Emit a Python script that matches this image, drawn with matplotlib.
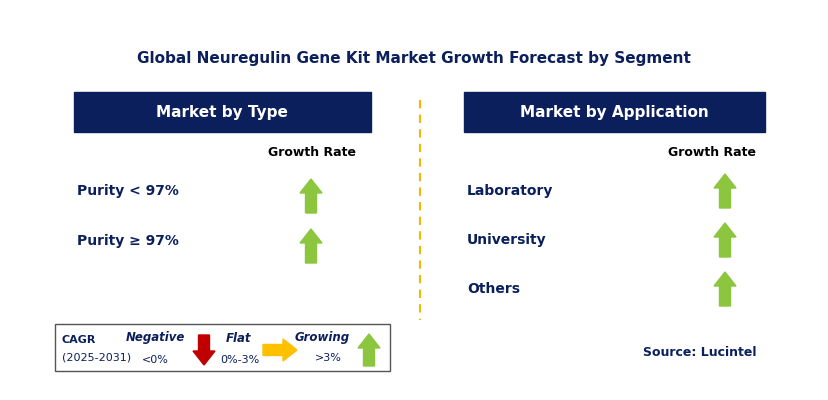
import matplotlib.pyplot as plt
from matplotlib.patches import Rectangle, Polygon

title = 'Global Neuregulin Gene Kit Market Growth Forecast by Segment'
type_segments = ['Purity < 97%', 'Purity ≥ 97%']
type_trend = ['up', 'up']
app_segments = ['Laboratory', 'University', 'Others']
app_trend = ['up', 'up', 'up']

navy = '#0b1f5c'
green = '#8cc63f'
fig = plt.figure(figsize=(8.29, 4.0), dpi=100)
ax = fig.add_axes([0, 0, 1, 1])
ax.set_xlim(0, 829)
ax.set_ylim(400, 0)
ax.axis('off')


def arrow(x, y, kind, w=22, h=34):
    # x,y is the centre of the arrow
    if kind == 'up':
        pts = [(x - w/2, y - h/2 + 14), (x, y - h/2), (x + w/2, y - h/2 + 14),
               (x + w/4, y - h/2 + 14), (x + w/4, y + h/2), (x - w/4, y + h/2),
               (x - w/4, y - h/2 + 14)]
        c = green
    elif kind == 'down':
        pts = [(x - w/2, y + h/2 - 14), (x, y + h/2), (x + w/2, y + h/2 - 14),
               (x + w/4, y + h/2 - 14), (x + w/4, y - h/2), (x - w/4, y - h/2),
               (x - w/4, y + h/2 - 14)]
        c = '#c00000'
    else:
        pts = [(x + h/2 - 14, y - w/2), (x + h/2, y), (x + h/2 - 14, y + w/2),
               (x + h/2 - 14, y + w/4), (x - h/2, y + w/4), (x - h/2, y - w/4),
               (x + h/2 - 14, y - w/4)]
        c = '#ffc000'
    ax.add_patch(Polygon(pts, closed=True, color=c))


ax.text(414, 58, title, ha='center', va='center', fontsize=11, fontweight='bold', color=navy)

# left panel
ax.add_patch(Rectangle((74, 92), 297, 40, color=navy))
ax.text(222, 112, 'Market by Type', ha='center', va='center', fontsize=11, fontweight='bold', color='white')
ax.text(312, 152, 'Growth Rate', ha='center', va='center', fontsize=9, fontweight='bold', color='black')
for i, (s, t) in enumerate(zip(type_segments, type_trend)):
    y = 191 + i * 50
    ax.text(77, y, s, ha='left', va='center', fontsize=10, fontweight='bold', color=navy)
    arrow(311, y + 5, t)

# right panel
ax.add_patch(Rectangle((464, 92), 301, 40, color=navy))
ax.text(614, 112, 'Market by Application', ha='center', va='center', fontsize=11, fontweight='bold', color='white')
ax.text(712, 152, 'Growth Rate', ha='center', va='center', fontsize=9, fontweight='bold', color='black')
for i, (s, t) in enumerate(zip(app_segments, app_trend)):
    y = 191 + i * 49
    ax.text(467, y, s, ha='left', va='center', fontsize=10, fontweight='bold', color=navy)
    arrow(725, y + 0, t)

ax.plot([420, 420], [100, 320], ls=(0, (4, 3)), color='#f5b800', lw=1.5)

# legend box
ax.add_patch(Rectangle((55, 324), 335, 47, fill=False, ec='#555555', lw=1))
ax.text(62, 340, 'CAGR', fontsize=8, fontweight='bold', color=navy, va='center')
ax.text(62, 358, '(2025-2031)', fontsize=8, color=navy, va='center')
ax.text(155, 338, 'Negative', fontsize=8.5, fontweight='bold', style='italic', color=navy, ha='center', va='center')
ax.text(155, 360, '<0%', fontsize=8, color=navy, ha='center', va='center')
arrow(204, 350, 'down', w=22, h=30)
ax.text(239, 338, 'Flat', fontsize=8.5, fontweight='bold', style='italic', color=navy, ha='center', va='center')
ax.text(240, 360, '0%-3%', fontsize=8, color=navy, ha='center', va='center')
arrow(280, 350, 'flat', w=22, h=34)
ax.text(322, 338, 'Growing', fontsize=8.5, fontweight='bold', style='italic', color=navy, ha='center', va='center')
ax.text(328, 358, '>3%', fontsize=8, color=navy, ha='center', va='center')
arrow(369, 350, 'up', w=22, h=32)

ax.text(700, 352, 'Source: Lucintel', ha='center', va='center', fontsize=9, fontweight='bold', color=navy)

fig.savefig('out.png', dpi=100)
